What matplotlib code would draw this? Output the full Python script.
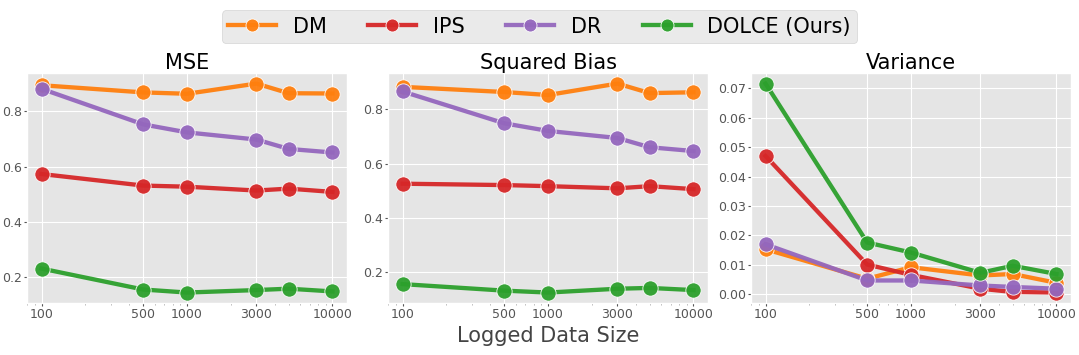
import matplotlib
matplotlib.use("Agg")
import matplotlib.pyplot as plt
from matplotlib.ticker import FixedLocator, FixedFormatter, MultipleLocator

plt.style.use('ggplot')

sizes = [100, 500, 1000, 3000, 5000, 10000]
tick_vals = [100, 500, 1000, 3000, 10000]
methods = ['DM', 'IPS', 'DR', 'DOLCE (Ours)']
colors = ['#ff7f0e', '#d62728', '#9467bd', '#2ca02c']

# MSE
mse_dm = [0.895, 0.869, 0.864, 0.901, 0.866, 0.865]
mse_ips = [0.573, 0.531, 0.527, 0.513, 0.520, 0.508]
mse_dr = [0.882, 0.753, 0.724, 0.698, 0.664, 0.651]
mse_dolce = [0.230, 0.154, 0.143, 0.152, 0.157, 0.147]

# Squared bias
bias_dm = [0.882, 0.863, 0.852, 0.894, 0.859, 0.862]
bias_ips = [0.526, 0.521, 0.517, 0.509, 0.517, 0.506]
bias_dr = [0.865, 0.748, 0.720, 0.694, 0.660, 0.646]
bias_dolce = [0.157, 0.133, 0.126, 0.140, 0.143, 0.135]

# Variance
var_dm = [0.0153, 0.0053, 0.0092, 0.0064, 0.0069, 0.0039]
var_ips = [0.0470, 0.0101, 0.0066, 0.0019, 0.0008, 0.0006]
var_dr = [0.0170, 0.0047, 0.0047, 0.0030, 0.0025, 0.0019]
var_dolce = [0.0716, 0.0176, 0.0142, 0.0073, 0.0097, 0.0069]

panels = [
    ('MSE', [mse_dm, mse_ips, mse_dr, mse_dolce], 0.2),
    ('Squared Bias', [bias_dm, bias_ips, bias_dr, bias_dolce], 0.2),
    ('Variance', [var_dm, var_ips, var_dr, var_dolce], 0.01),
]

fig = plt.figure(figsize=(10.79, 3.55), dpi=100)
lefts = [0.025, 0.3596, 0.696]
width = 0.2966
axes = [fig.add_axes([l, 0.1465, width, 0.6475]) for l in lefts]

for ax, (title, series, ystep) in zip(axes, panels):
    for name, vals, c in zip(methods, series, colors):
        ax.plot(sizes, vals, color=c, lw=3.1, marker='o', markersize=11,
                markeredgecolor='white', markeredgewidth=0.6, label=name, alpha=0.95)
    ax.set_xscale('log')
    ax.xaxis.set_major_locator(FixedLocator(tick_vals))
    ax.xaxis.set_major_formatter(FixedFormatter([str(v) for v in tick_vals]))
    ax.yaxis.set_major_locator(MultipleLocator(ystep))
    ax.set_title(title, fontsize=15, color='black', pad=3)
    ax.tick_params(labelsize=9, colors='#555555', length=2, pad=1.5)
    ax.tick_params(which='minor', length=1.5, colors='#aaaaaa')

axes[1].set_xlabel('Logged Data Size', fontsize=15, color='#444444', labelpad=4)

handles, labels = axes[0].get_legend_handles_labels()
fig.legend(handles, labels, loc='upper center', bbox_to_anchor=(0.5, 1.0), ncol=4,
           fontsize=15, frameon=True, handlelength=2.3, handletextpad=0.8,
           columnspacing=2.0, markerscale=0.85, borderpad=0.3)

fig.savefig('out.png', dpi=100)
